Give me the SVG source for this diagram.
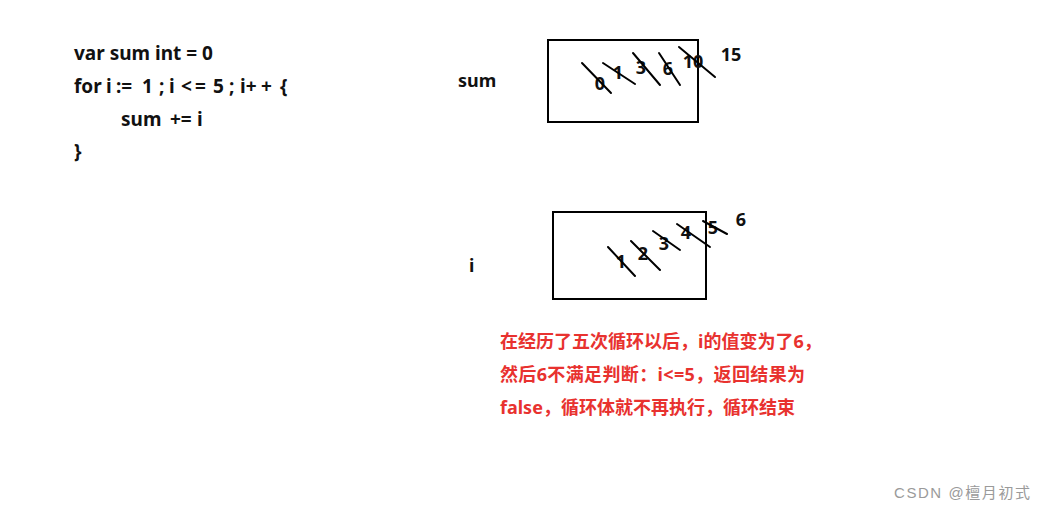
<svg xmlns="http://www.w3.org/2000/svg" width="1046" height="510" viewBox="0 0 1046 510">
<style>
.code{font-family:"Noto Sans","Open Sans","Liberation Sans",sans-serif;font-weight:bold;font-size:19px;fill:#111}
.lbl{font-family:"Noto Sans","Open Sans","Liberation Sans",sans-serif;font-weight:bold;font-size:18px;fill:#111}
.num{font-family:"Noto Sans","Liberation Sans",sans-serif;font-weight:bold;font-size:18px;fill:#111;text-anchor:middle;dominant-baseline:central}
.box{fill:none;stroke:#000;stroke-width:2}
.strike{stroke:#000;stroke-width:2;stroke-linecap:round}
.red{font-family:"Noto Sans","Noto Sans CJK SC",sans-serif;font-weight:bold;font-size:18px;fill:#e8322f}
.wm{font-family:"Liberation Sans","Noto Sans CJK SC",sans-serif;font-size:15px;fill:#9a9a9a}
</style>
<rect width="1046" height="510" fill="#fff"/>
<g id="code">
<text class="code" x="74" y="60">var sum int = 0</text>
<text class="code" y="93"><tspan x="74">for</tspan><tspan x="106">i</tspan><tspan x="116">:=</tspan><tspan x="142">1</tspan><tspan x="159">;</tspan><tspan x="169">i</tspan><tspan x="181">&lt;</tspan><tspan x="195">=</tspan><tspan x="213">5</tspan><tspan x="229">;</tspan><tspan x="240">i+</tspan><tspan x="261">+</tspan><tspan x="280">{</tspan></text>
<text class="code" y="126"><tspan x="121">sum</tspan><tspan x="170">+=</tspan><tspan x="197">i</tspan></text>
<text class="code" x="74" y="158">}</text>
</g>
<g id="sum-label"><text class="lbl" x="458" y="87">sum</text></g>
<g id="i-label"><text class="lbl" x="469" y="272">i</text></g>
<g id="sum-box">
<rect class="box" x="548" y="40" width="150" height="82"/>
<text class="num" x="600" y="83">0</text>
<text class="num" x="618" y="72">1</text>
<text class="num" x="641" y="67">3</text>
<text class="num" x="668" y="68">6</text>
<text class="num" x="693" y="61">10</text>
<text class="num" x="731" y="54">15</text>
</g>
<g id="i-box">
<rect class="box" x="553" y="212" width="153" height="87"/>
<text class="num" x="621" y="261">1</text>
<text class="num" x="643" y="253">2</text>
<text class="num" x="664" y="243">3</text>
<text class="num" x="686" y="232">4</text>
<text class="num" x="713" y="227">5</text>
<text class="num" x="741" y="219">6</text>
</g>
<g id="connectors">
<line class="strike" x1="582" y1="63" x2="611" y2="93"/>
<line class="strike" x1="603" y1="63" x2="635" y2="84"/>
<line class="strike" x1="633" y1="53" x2="660" y2="85"/>
<line class="strike" x1="659" y1="53" x2="680" y2="85"/>
<line class="strike" x1="679" y1="47" x2="715" y2="77"/>
<line class="strike" x1="608" y1="247" x2="635" y2="276"/>
<line class="strike" x1="631" y1="241" x2="660" y2="270"/>
<line class="strike" x1="653" y1="231" x2="680" y2="250"/>
<line class="strike" x1="677" y1="224" x2="710" y2="247"/>
<line class="strike" x1="703" y1="221" x2="727" y2="234"/>
</g>
<g id="note">
<text class="red" x="500" y="348">在经历了五次循环以后，i的值变为了6，</text>
<text class="red" x="500" y="381" textLength="305" lengthAdjust="spacing">然后6不满足判断：i&lt;=5，返回结果为</text>
<text class="red" x="500" y="414">false，循环体就不再执行，循环结束</text>
</g>
<g id="watermark"><text class="wm" x="894" y="498" textLength="136" lengthAdjust="spacing">CSDN @檀月初式</text></g>
</svg>
